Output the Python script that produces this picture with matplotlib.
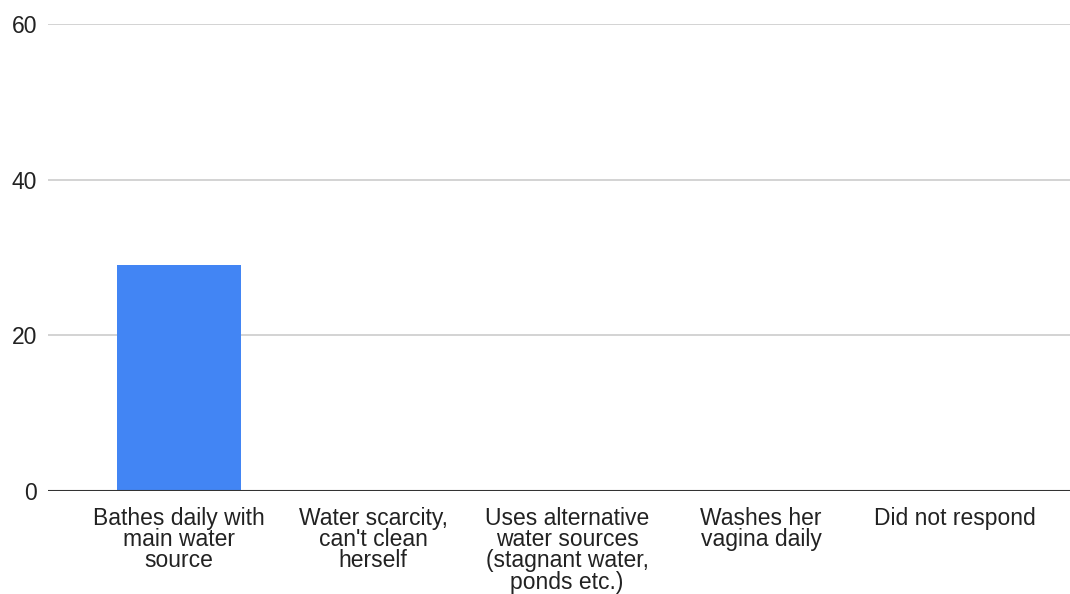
import matplotlib.pyplot as plt

plt.rcParams['font.family'] = ['Liberation Sans', 'DejaVu Sans']

categories = ["Bathes daily with\nmain water\nsource",
              "Water scarcity,\ncan't clean\nherself",
              "Uses alternative\nwater sources\n(stagnant water,\nponds etc.)",
              "Washes her\nvagina daily",
              "Did not respond"]
values = [29, 0, 0, 0, 0]
yticks = [0, 20, 40, 60]

fig = plt.figure(figsize=(10.7, 5.94), dpi=100)
ax = fig.add_axes([48 / 1070, 1 - 491 / 594, 1 - 48 / 1070, (491 - 24) / 594])

x = list(range(len(categories)))
ax.bar(x, values, width=0.64, color='#4285f4', zorder=3)

ax.set_ylim(0, 60)
ax.set_xlim(-0.675, 4.593)
ax.set_yticks(yticks)
ax.set_yticklabels([str(v) for v in yticks])
ax.set_xticks(x)
ax.set_xticklabels(categories, linespacing=0.9)

for y in yticks[1:]:
    ax.axhline(y, color='#cccccc', lw=1.2, zorder=1)
ax.axhline(0, color='#333333', lw=1.5, zorder=4)

for s in ax.spines.values():
    s.set_visible(False)
ax.tick_params(axis='both', length=0, labelsize=16.5, colors='#222222')
ax.tick_params(axis='y', pad=8)
ax.tick_params(axis='x', pad=11.5)

fig.savefig('out.png', dpi=100)
